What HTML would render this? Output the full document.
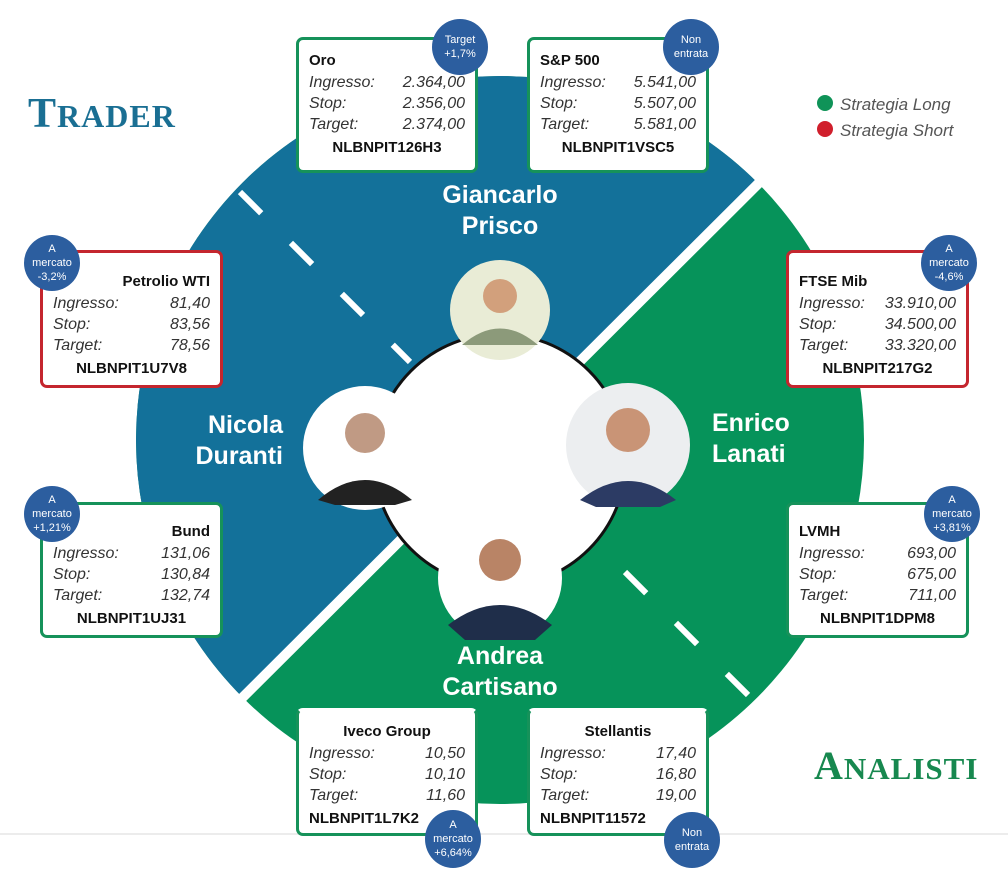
<!DOCTYPE html>
<html style="overflow:hidden"><head><meta charset="utf-8">
<style>
html,body{margin:0;width:1008px;height:872px;overflow:hidden}
body{background:#fff;position:relative;font-family:"Liberation Sans",sans-serif}
.box{position:absolute;width:176px;height:130px;background:#fff;border:3px solid #16925a;border-radius:7px;box-sizing:border-box;padding:6px 10px 0 10px}
.red{border-color:#c4262e}
.t{font-weight:bold;font-size:15px;height:22px;line-height:22px;color:#111}
.r{display:flex;justify-content:space-between;font-style:italic;font-size:16px;line-height:21px;color:#333}
.c{text-align:center;font-weight:bold;font-size:15px;line-height:26px;color:#111}
.b{position:absolute;width:56px;height:56px;border-radius:50%;background:#2c5e9f;color:#fff;font-size:11px;line-height:14px;text-align:center;display:flex;align-items:center;justify-content:center}
.n{position:absolute;color:#fff;font-weight:bold;font-size:25px;line-height:31px}
</style></head><body>
<svg width="1008" height="872" style="position:absolute;left:0;top:0">
<defs><clipPath id="cc"><circle cx="500" cy="440" r="364"/></clipPath></defs>
<g clip-path="url(#cc)">
<rect x="0" y="0" width="1008" height="872" fill="#06935a"/>
<polygon points="-100,1040 1100,-160 -100,-160" fill="#13719a"/>
</g>
<line x1="780" y1="162" x2="220" y2="720" stroke="#fff" stroke-width="10"/>
<line x1="240" y1="192" x2="410" y2="362" stroke="#fff" stroke-width="6" stroke-dasharray="30,42"/>
<line x1="625" y1="572" x2="755" y2="702" stroke="#fff" stroke-width="6" stroke-dasharray="30,42"/>
<line x1="0" y1="834" x2="1008" y2="834" stroke="#ececec" stroke-width="2"/>
<circle cx="500" cy="460" r="126" fill="#fff" stroke="#111" stroke-width="3"/>
<g>
<circle cx="500" cy="310" r="50" fill="#e9ecd6"/>
<circle cx="500" cy="296" r="17" fill="#d2a07c"/><path d="M462,345 Q500,312 538,345 Z" fill="#8c9a7a"/>
<circle cx="365" cy="448" r="62" fill="#fff"/>
<circle cx="365" cy="433" r="20" fill="#c09a84"/><path d="M318,500 Q365,460 412,500 L395,505 L335,505Z" fill="#222"/>
<circle cx="628" cy="445" r="62" fill="#eceef0"/>
<circle cx="628" cy="430" r="22" fill="#c99476"/><path d="M580,500 Q628,462 676,500 L660,507 L596,507Z" fill="#2c3b64"/>
<circle cx="500" cy="578" r="62" fill="#fff"/>
<circle cx="500" cy="560" r="21" fill="#b98466"/><path d="M448,625 Q500,585 552,625 L535,640 L465,640Z" fill="#1f2e4a"/>
</g>
<circle cx="825" cy="103" r="8" fill="#0f9358"/>
<circle cx="825" cy="129" r="8" fill="#d01f2c"/>
</svg>
<div style="position:absolute;left:28px;top:90px;font-family:'Liberation Serif',serif;font-weight:bold;font-size:42px;color:#1a6f93;letter-spacing:1px">T<span style="font-size:32px">RADER</span></div>
<div style="position:absolute;left:814px;top:742px;font-family:'Liberation Serif',serif;font-weight:bold;font-size:40px;color:#17884f;letter-spacing:1px">A<span style="font-size:31px">NALISTI</span></div>
<div style="position:absolute;left:840px;top:92px;font-style:italic;font-size:17px;color:#555;line-height:26px">Strategia Long<br>Strategia Short</div>

<div class="n" style="left:400px;top:180px;width:200px;text-align:center">Giancarlo<br>Prisco</div>
<div class="n" style="left:140px;top:410px;width:143px;text-align:right">Nicola<br>Duranti</div>
<div class="n" style="left:712px;top:408px">Enrico<br>Lanati</div>
<div class="n" style="left:400px;top:641px;width:200px;text-align:center">Andrea<br>Cartisano</div>

<div class="box" style="left:296px;top:37px;width:182px;height:136px"><div class="t" style="margin-top:4px">Oro</div><div class="r"><span>Ingresso:</span><span>2.364,00</span></div><div class="r"><span>Stop:</span><span>2.356,00</span></div><div class="r"><span>Target:</span><span>2.374,00</span></div><div class="c">NLBNPIT126H3</div></div>
<div class="b" style="left:432px;top:19px">Target<br>+1,7%</div>

<div class="box" style="left:527px;top:37px;width:182px;height:136px"><div class="t" style="margin-top:4px">S&amp;P 500</div><div class="r"><span>Ingresso:</span><span>5.541,00</span></div><div class="r"><span>Stop:</span><span>5.507,00</span></div><div class="r"><span>Target:</span><span>5.581,00</span></div><div class="c">NLBNPIT1VSC5</div></div>
<div class="b" style="left:663px;top:19px">Non<br>entrata</div>

<div class="box red" style="left:40px;top:250px;width:183px;height:138px"><div class="t" style="text-align:right;margin-top:12px">Petrolio WTI</div><div class="r"><span>Ingresso:</span><span>81,40</span></div><div class="r"><span>Stop:</span><span>83,56</span></div><div class="r"><span>Target:</span><span>78,56</span></div><div class="c">NLBNPIT1U7V8</div></div>
<div class="b" style="left:24px;top:235px">A<br>mercato<br>-3,2%</div>

<div class="box red" style="left:786px;top:250px;width:183px;height:138px"><div class="t" style="margin-top:12px">FTSE Mib</div><div class="r"><span>Ingresso:</span><span>33.910,00</span></div><div class="r"><span>Stop:</span><span>34.500,00</span></div><div class="r"><span>Target:</span><span>33.320,00</span></div><div class="c">NLBNPIT217G2</div></div>
<div class="b" style="left:921px;top:235px">A<br>mercato<br>-4,6%</div>

<div class="box" style="left:40px;top:502px;width:183px;height:136px"><div class="t" style="text-align:right;margin-top:10px">Bund</div><div class="r"><span>Ingresso:</span><span>131,06</span></div><div class="r"><span>Stop:</span><span>130,84</span></div><div class="r"><span>Target:</span><span>132,74</span></div><div class="c">NLBNPIT1UJ31</div></div>
<div class="b" style="left:24px;top:486px">A<br>mercato<br>+1,21%</div>

<div class="box" style="left:786px;top:502px;width:183px;height:136px"><div class="t" style="margin-top:10px">LVMH</div><div class="r"><span>Ingresso:</span><span>693,00</span></div><div class="r"><span>Stop:</span><span>675,00</span></div><div class="r"><span>Target:</span><span>711,00</span></div><div class="c">NLBNPIT1DPM8</div></div>
<div class="b" style="left:924px;top:486px">A<br>mercato<br>+3,81%</div>

<div class="box" style="left:296px;top:708px;width:182px;height:128px;border-top-color:#fff"><div class="t" style="text-align:center;margin-top:4px">Iveco Group</div><div class="r"><span>Ingresso:</span><span>10,50</span></div><div class="r"><span>Stop:</span><span>10,10</span></div><div class="r"><span>Target:</span><span>11,60</span></div><div class="c" style="text-align:left">NLBNPIT1L7K2</div></div>
<div class="b" style="left:425px;top:810px;height:58px">A<br>mercato<br>+6,64%</div>

<div class="box" style="left:527px;top:708px;width:182px;height:128px;border-top-color:#fff"><div class="t" style="text-align:center;margin-top:4px">Stellantis</div><div class="r"><span>Ingresso:</span><span>17,40</span></div><div class="r"><span>Stop:</span><span>16,80</span></div><div class="r"><span>Target:</span><span>19,00</span></div><div class="c" style="text-align:left">NLBNPIT11572</div></div>
<div class="b" style="left:664px;top:812px">Non<br>entrata</div>
</body></html>
